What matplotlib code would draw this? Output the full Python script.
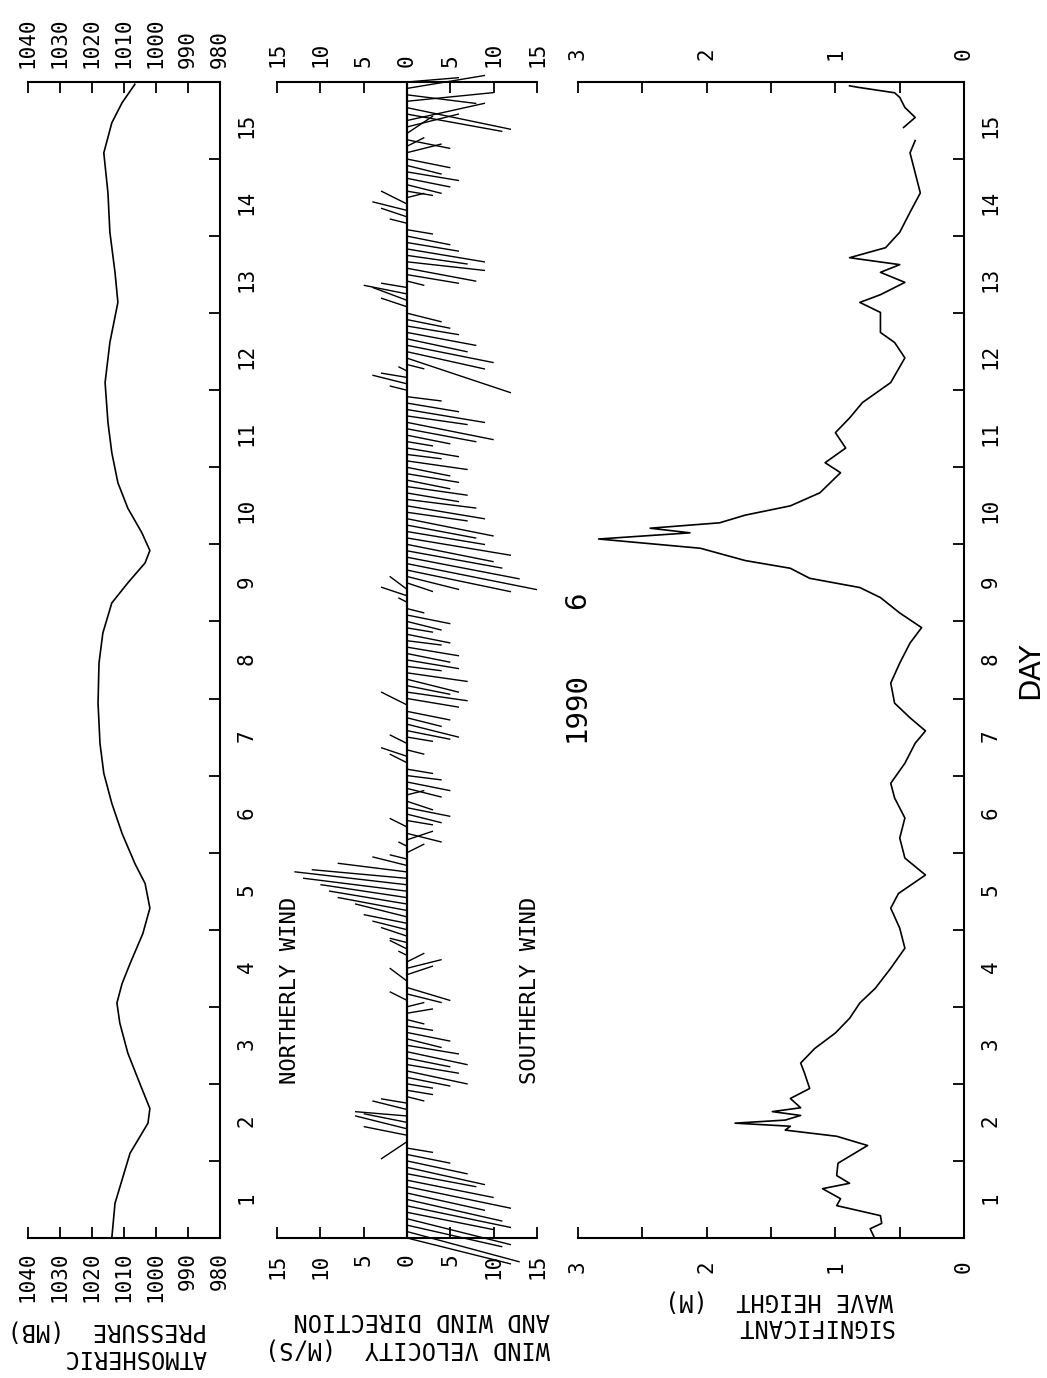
import matplotlib.pyplot as plt
import numpy as np
from matplotlib.collections import LineCollection
from matplotlib.ticker import MultipleLocator

# ---- data ----
# atmospheric pressure (mb)
p_day = [0.5, 0.95, 1.6, 1.99, 2.18, 2.5, 2.9, 3.29, 3.55, 3.8, 4.06, 4.45, 4.78,
         5.1, 5.36, 5.75, 6.14, 6.53, 6.92, 7.44, 7.96, 8.35, 8.74, 9.0, 9.26,
         9.42, 9.65, 9.97, 10.3, 10.69, 11.08, 11.6, 12.12, 12.64, 13.03, 13.55,
         14.06, 14.58, 14.97, 15.23, 15.47]
pressure = [1013.8, 1012.8, 1008.1, 1002.5, 1001.9, 1005.0, 1008.8, 1011.3, 1012.2,
            1010.6, 1008.1, 1004.1, 1001.9, 1003.4, 1006.6, 1010.6, 1013.8, 1016.3,
            1017.5, 1018.1, 1017.8, 1016.6, 1013.8, 1008.8, 1003.4, 1001.9, 1004.4,
            1008.8, 1011.9, 1013.8, 1015.0, 1015.9, 1014.4, 1011.9, 1012.8, 1014.4,
            1015.0, 1016.3, 1013.8, 1010.6, 1006.6]

# wind, 2-hourly from day 0.5 (one row per day)
# along-axis component (m/s, + = northerly, drawn to the left)
wind_n = [-12, -13, -11, -12, -10, -12, -11, -9, -12, -10, -8, -9,
          -7, -5, -3, 3, 5, 6, 5, 6, 4, 3, -2, -3,
          -3, -5, -7, -6, -5, -7, -6, -4, -5, -3, -2, -3,
          -2, 2, -4, -5, 2, -3, -4, -2, 1, 2, 2, 3,
          4, 5, 6, 8, 9, 10, 12, 13, 11, 8, 4, 2,
          -2, 1, -3, -4, 2, -3, -4, -5, -3, -2, -4, -5,
          -4, -3, 2, 3, -2, 2, -3, -5, -6, -4, -5, 3,
          -6, -7, -5, -6, -7, -4, -6, -5, -6, -4, -5, -3,
          -4, -5, -2, 1, 3, 2, -3, -6, -12, -15, -13, -11,
          -10, -12, -9, -8, -10, -7, -9, -8, -6, -7, -5, -6,
          -5, -7, -4, -6, -3, -5, -8, -10, -7, -9, -6, -4,
          2, 4, 3, 1, -2, -12, -9, -10, -7, -8, -6, -5,
          -4, 3, 4, 5, 3, -2, -6, -8, -9, -7, -9, -6,
          -5, -3, 2, 3, 4, 3, -2, -3, -4, -5, -6, -4,
          -5, -4, -2, -5, -3, -6, -9, -11, -12, -10, -8, -9, -6]
# cross component (m/s, + = drawn toward later days)
wind_e = [-3, -3.5, -2.5, -3, -2, -2.5, -2.5, -2, -2.5, -2, -1.5, -2,
          -1.5, -1, -0.5, -2, 1, 1.5, 1, 0.5, 1, 0.5, -0.5, -0.5,
          -0.5, -1, -1.5, -1, -1, -1.5, -1, -1, -1, -0.5, -0.5, 0.5,
          0.5, 1, -1, -1.5, 1.5, 1, 1, 1, 0.5, 1, 0.5, 1,
          1, 1, 1.5, 1.5, 1.5, 1.5, 1.5, 1.5, 1, 1, 1, 0.5,
          1, 0.5, 1, -1, 1, -0.5, -1, -1, -1, 0.5, -1, -1,
          -0.5, -0.5, 1, 1, -0.5, 1, -0.5, -1, -1.5, -1, -1, 1.5,
          -1, -1, -1, -1.5, -1, -0.5, -1, -1, -1, -0.5, -1, -0.5,
          -1, -1, -0.5, 0.5, 1, 1.5, -1, -1.5, -2.5, -3, -2.5, -2,
          -2, -2, -1.5, -1.5, -2, -1, -1.5, -1, -1, -1, -1, -1,
          -1, -1, -0.5, -1, -0.5, -1, -1.5, -2, -1, -1.5, -1, -0.5,
          0.5, 1, 0.5, 0.5, -0.5, -4, -2, -2, -1.5, -1.5, -1, -1,
          -1, 1, 1.5, 1, 0.5, -0.5, -1, -1.5, -1, -1, -1.5, -1,
          -1, -0.5, 0.5, 1, 1, 1.5, 0.5, -0.5, -1, -1, -1, -1,
          -1, 1, 1, -1, 2, 1.5, 2, -2, -2.5, 1, -1, 1.5, 0.5]
wind_day = 0.5 + np.arange(len(wind_n)) / 12.0

# significant wave height (m)
h_day = [0.48, 0.62, 0.69, 0.79, 0.92, 1.01, 1.14, 1.21, 1.31, 1.47, 1.6, 1.7,
         1.82, 1.9, 1.95, 1.99, 2.03, 2.09, 2.14, 2.19, 2.31, 2.44, 2.64, 2.77,
         2.96, 3.16, 3.35, 3.55, 3.74, 4.0, 4.26, 4.52, 4.78, 4.97, 5.21, 5.43,
         5.69, 5.95, 6.21, 6.4, 6.66, 6.92, 7.08, 7.25, 7.44, 7.7, 7.96, 8.22,
         8.42, 8.61, 8.81, 8.94, 9.06, 9.19, 9.29, 9.45, 9.57, 9.65, 9.71, 9.78,
         9.88, 10.0, 10.17, 10.43, 10.56, 10.75, 10.95, 11.14, 11.34, 11.6, 11.92,
         12.12, 12.25, 12.51, 12.64, 12.74, 12.9, 13.03, 13.13, 13.22, 13.35,
         13.55, 13.81, 14.06, 14.32, 14.58, 14.74, 14.83, 14.91, 15.04, 15.17,
         15.3, 15.36, 15.43, 15.45]
wave_h = [0.69, 0.73, 0.64, 0.65, 0.99, 0.96, 1.10, 0.89, 0.99, 0.98, 0.85, 0.75,
          0.99, 1.39, 1.35, 1.78, 1.39, 1.27, 1.49, 1.27, 1.35, 1.20, 1.24, 1.27,
          1.16, 1.00, 0.89, 0.81, 0.69, 0.57, 0.46, 0.50, 0.57, 0.51, 0.30, 0.46,
          0.50, 0.46, 0.54, 0.57, 0.46, 0.38, 0.30, 0.42, 0.54, 0.57, 0.50, 0.42,
          0.33, 0.50, 0.65, 0.81, 1.20, 1.35, 1.70, 2.05, 2.84, 2.13, 2.44, 1.90,
          1.70, 1.35, 1.12, 0.96, 1.08, 0.92, 1.00, 0.89, 0.79, 0.57, 0.46,
          0.54, 0.65, 0.65, 0.81, 0.65, 0.46, 0.65, 0.50, 0.89, 0.61,
          0.50, 0.42, 0.34, 0.38, 0.42, 0.38, np.nan, 0.47, 0.38, 0.46,
          0.50, 0.54, 0.82, 0.89]

day_major = np.arange(1, 16)
day_minor = np.arange(1.5, 15, 1.0)

FW, FH = 10.47, 13.78
plt.rcParams['font.family'] = 'DejaVu Sans Mono'


def fx(px):
    return px / 1047.0


def fy(py):
    return 1.0 - py / 1378.0


def style_day_axis(ax, pad):
    ax.set_ylim(0.5, 15.5)
    ax.yaxis.tick_right()
    ax.set_yticks(day_major)
    ax.set_yticks(day_minor, minor=True)
    ax.tick_params(axis='y', which='major', length=0, labelright=True,
                   labelleft=False, labelrotation=90, labelsize=15, pad=pad)
    ax.tick_params(axis='y', which='minor', direction='in', length=8,
                   width=1.3, right=True, left=False)


def style_value_axis(ax, pad):
    ax.tick_params(axis='x', which='both', direction='in', top=True, bottom=True,
                   labeltop=True, labelbottom=True, length=8, width=1.3,
                   labelrotation=90, labelsize=15, pad=pad)


fig = plt.figure(figsize=(FW, FH), dpi=100)
bottom, height = 0.1016, 0.8389
pos1 = [0.0267, bottom, 0.1834, height]
pos2 = [0.2646, bottom, 0.2483, height]
pos3 = [0.5521, bottom, 0.3687, height]

# ---- pressure ----
ax1 = fig.add_axes(pos1)
ax1.plot(pressure, p_day, color='k', lw=1.2)
ax1.set_xlim(1040, 980)
ax1.set_xticks(np.arange(980, 1041, 10))
style_value_axis(ax1, 10)
style_day_axis(ax1, 12)
ax1.spines['left'].set_visible(False)

# ---- wind sticks ----
ax2 = fig.add_axes(pos2)
k = (pos2[2] * FW / 30.0) / (pos2[3] * FH / 15.0)
n = np.array(wind_n, dtype=float)
e = np.array(wind_e, dtype=float)
segs = [[(0, t), (a, t + b * k)] for t, a, b in zip(wind_day, n, e)]
lc = LineCollection(segs, colors='k', linewidths=1.0, clip_on=False)
ax2.add_collection(lc)
ax2.axvline(0, color='k', lw=1.6)
ax2.set_xlim(15, -15)
ax2.set_ylim(0.5, 15.5)
wind_ticks = [15, 10, 5, 0, -5, -10, -15]
ax2.set_xticks(wind_ticks)
ax2.set_xticklabels([str(abs(v)) for v in wind_ticks])
style_value_axis(ax2, 11)
ax2.set_yticks([])
ax2.spines['left'].set_visible(False)
ax2.spines['right'].set_visible(False)

# ---- wave height ----
ax3 = fig.add_axes(pos3)
ax3.plot(wave_h, h_day, color='k', lw=1.2)
ax3.set_xlim(3, 0)
ax3.set_xticks([3, 2, 1, 0])
ax3.xaxis.set_minor_locator(MultipleLocator(0.5))
style_value_axis(ax3, 16)
style_day_axis(ax3, 12)
ax3.spines['left'].set_visible(False)

for ax in (ax1, ax2, ax3):
    for s in ax.spines.values():
        s.set_linewidth(1.5)

# ---- texts ----
fig.text(fx(290), fy(990), 'NORTHERLY WIND', rotation=90, ha='center', va='center', fontsize=16)
fig.text(fx(530), fy(990), 'SOUTHERLY WIND', rotation=90, ha='center', va='center', fontsize=16)
fig.text(fx(577), fy(707), '1990', rotation=90, ha='center', va='center', fontsize=21)
fig.text(fx(577), fy(600), '6', rotation=90, ha='center', va='center', fontsize=21)
fig.text(fx(1030), fy(670), 'DAY', rotation=90, ha='center', va='center', fontsize=21,
         family='DejaVu Sans')

fig.text(fx(207), fy(1330), 'PRESSURE  (MB)', rotation=180, ha='right', va='center', fontsize=17)
fig.text(fx(207), fy(1357), 'ATMOSHERIC', rotation=180, ha='right', va='center', fontsize=17)
fig.text(fx(550), fy(1320), 'AND WIND DIRECTION', rotation=180, ha='right', va='center', fontsize=17)
fig.text(fx(550), fy(1348), 'WIND VELOCITY  (M/S)', rotation=180, ha='right', va='center', fontsize=17)
fig.text(fx(893), fy(1300), 'WAVE HEIGHT  (M)', rotation=180, ha='right', va='center', fontsize=17)
fig.text(fx(893), fy(1326), 'SIGNIFICANT', rotation=180, ha='right', va='center', fontsize=17)

fig.savefig('out.png', dpi=100)
